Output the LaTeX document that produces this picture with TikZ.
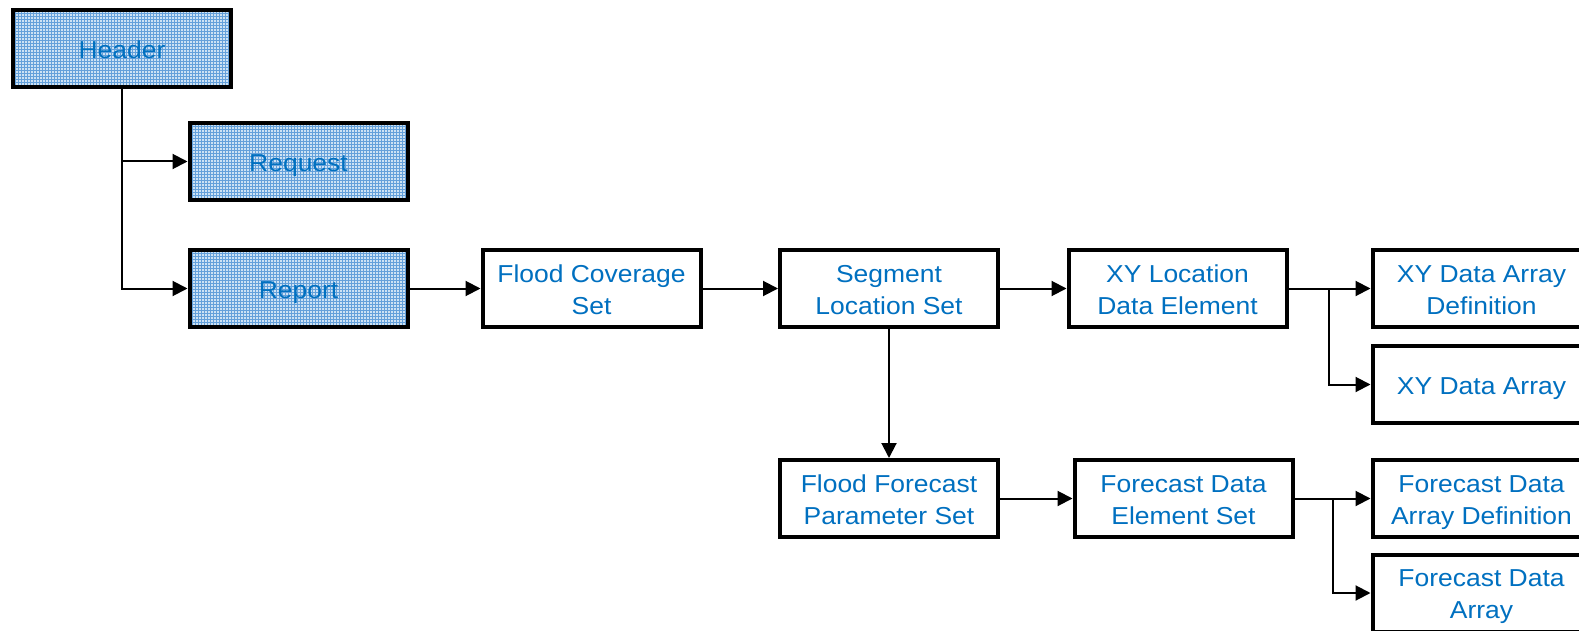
\documentclass[tikz,border=0pt]{standalone}
\usepackage{fontspec}
\setmainfont{Liberation Sans}[FakeStretch=1.08]
\usetikzlibrary{arrows.meta}
\definecolor{txtblue}{RGB}{0,112,192}
\definecolor{gridbg}{RGB}{205,226,244}
\definecolor{gridln}{RGB}{100,160,218}

\begin{document}
\begin{tikzpicture}[x=1pt,y=-1pt,
  box/.style={draw=black, line width=4pt, minimum width=218pt, minimum height=77pt,
    inner sep=0pt, align=center, text=txtblue, fill=white,
    font=\fontsize{24.5}{32}\selectfont},
  oneline/.style={text height=19.5pt, text depth=0pt},
  twoline/.style={text height=51.5pt, text depth=0pt},
  hatched/.style={box, fill=gridbg,
    path picture={\draw[gridln, line width=0.9pt]
      (path picture bounding box.south west) grid[step=3pt]
      (path picture bounding box.north east);}},
  link/.style={line width=2pt, -{Triangle[length=15pt,width=15pt]}}]

\useasboundingbox (0,0) rectangle (1579,631);
\clip (0,0) rectangle (1579,631);

% message parts
\node[hatched,oneline] (header)  at (122,48.5)    {Header};
\node[hatched,oneline] (request) at (298.5,161.5) {Request};
\node[hatched,oneline] (report)  at (298.5,288.5) {Report};

% report contents
\node[box,twoline] (flood)   at (591.5,288.5)  {Flood Coverage\\Set};
\node[box,twoline] (segment) at (889,288.5)    {Segment\\Location Set};
\node[box,twoline] (xyloc)   at (1177.5,288.5) {XY Location\\Data Element};
\node[box,twoline] (xydef)   at (1481.5,288.5) {XY Data Array\\Definition};
\node[box,oneline] (xyarr)   at (1481.5,384.5) {XY Data Array};
\node[box,twoline] (ffparam) at (889,498.5)    {Flood Forecast\\Parameter Set};
\node[box,twoline] (fcelem)  at (1183.5,498.5) {Forecast Data\\Element Set};
\node[box,twoline] (fcdef)   at (1481.5,498.5) {Forecast Data\\Array Definition};
\node[box,twoline] (fcarr)   at (1481.5,593)   {Forecast Data\\Array};

% branch points
\coordinate (xyfork) at (1329,288.5);
\coordinate (fcfork) at (1333,498.5);

% connectors
\draw[link] (header.south) |- (report.west);
\draw[link] (header.south |- request.west) -- (request.west);
\draw[link] (report.east) -- (flood.west);
\draw[link] (flood.east) -- (segment.west);
\draw[link] (segment.east) -- (xyloc.west);
\draw[link] (xyloc.east) -- (xydef.west);
\draw[link] (xyfork) |- (xyarr.west);
\draw[link] (segment.south) -- (ffparam.north);
\draw[link] (ffparam.east) -- (fcelem.west);
\draw[link] (fcelem.east) -- (fcdef.west);
\draw[link] (fcfork) |- (fcarr.west);
\end{tikzpicture}
\end{document}
